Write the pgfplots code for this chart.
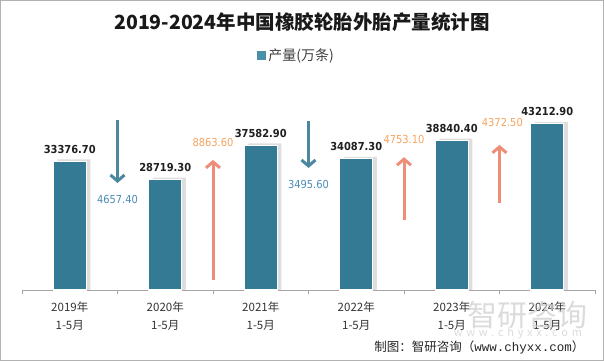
\documentclass[border=0pt]{standalone}
\usepackage{pgfplots}
\pgfplotsset{compat=1.18}
\usepackage{fontspec}
\setmainfont{Noto Sans CJK SC}
\setmonofont{Liberation Mono}
\newfontfamily\numfont{DejaVu Sans}[FakeStretch=0.9]
\usetikzlibrary{arrows.meta}
\definecolor{barc}{HTML}{347A94}
\definecolor{legc}{HTML}{4A90A8}
\definecolor{downc}{HTML}{4B889F}
\definecolor{upc}{HTML}{EF8E78}
\definecolor{lblue}{HTML}{4A8CB4}
\definecolor{lorange}{HTML}{F5A35F}
\begin{document}
\begin{tikzpicture}
\draw[gray!60, line width=1bp] (0.5bp,0.5bp) rectangle (603.5bp,360.5bp);
\node[font=\fontsize{19.5bp}{22bp}\selectfont\bfseries, text=black!90] at (302bp,339bp) {2019-2024年中国橡胶轮胎外胎产量统计图};
\begin{axis}[
  at={(22bp,71bp)}, anchor=south west,
  scale only axis, width=573bp, height=192.5bp,
  xmin=-0.5, xmax=5.5, ymin=0, ymax=50000,
  axis y line=none, axis x line*=bottom,
  x axis line style={gray!70, line width=0.8bp},
  clip=false,
  xtick={0,1,2,3,4,5},
  xticklabels={{2019年\\1-5月},{2020年\\1-5月},{2021年\\1-5月},{2022年\\1-5月},{2023年\\1-5月},{2024年\\1-5月}},
  major tick length=0pt,
  xticklabel style={align=center, font=\fontsize{11.5bp}{18bp}\selectfont, text=black!80, yshift=-8bp},
  extra x ticks={-0.5,0.5,1.5,2.5,3.5,4.5,5.5},
  extra x tick labels={},
  extra x tick style={major tick length=4bp, tick align=outside, tick style={draw=gray!70, line width=0.8bp}},
  /pgf/number format/assume math mode=true,
  legend style={at={(0.5,1)}, anchor=center, yshift=42bp, xshift=-12bp, draw=none, fill=none,
    font=\fontsize{14bp}{16bp}\selectfont, text=black!75},
  legend image code/.code={\fill[legc] (0bp,-4bp) rectangle (8bp,4bp);},
]
\addplot[ybar, bar width=33bp, bar shift=4bp, fill=black, opacity=0.13, draw=none, forget plot]
  coordinates {(0,33900) (1,29200) (2,38100) (3,34600) (4,39350) (5,43700)};
\addplot[ybar, bar width=33bp, bar shift=0bp, fill=barc, draw=white, line width=1.2bp,
  nodes near coords,
  every node near coord/.append style={font=\numfont\bfseries\fontsize{11bp}{13bp}\selectfont, text=black!88, yshift=4bp,
    /pgf/number format/.cd, fixed, fixed zerofill, precision=2, 1000 sep={}}]
  coordinates {(0,33376.7) (1,28719.3) (2,37582.9) (3,34087.3) (4,38840.4) (5,43212.9)};
\addlegendentry{产量(万条)}
\addplot[downc, line width=3bp, -{Straight Barb[length=6bp, width=14bp]}, forget plot] coordinates {(0.5,44200) (0.5,27800)};
\addplot[upc, line width=3bp, -{Straight Barb[length=6bp, width=14bp]}, forget plot] coordinates {(1.5,2600) (1.5,33800)};
\addplot[downc, line width=3bp, -{Straight Barb[length=6bp, width=14bp]}, forget plot] coordinates {(2.5,43900) (2.5,31700)};
\addplot[upc, line width=3bp, -{Straight Barb[length=6bp, width=14bp]}, forget plot] coordinates {(3.5,18200) (3.5,34500)};
\addplot[upc, line width=3bp, -{Straight Barb[length=6bp, width=14bp]}, forget plot] coordinates {(4.5,22600) (4.5,37700)};
\node[font=\numfont\fontsize{11bp}{13bp}\selectfont, text=lblue] at (axis cs:0.5,23400) {4657.40};
\node[font=\numfont\fontsize{11bp}{13bp}\selectfont, text=lorange] at (axis cs:1.5,38200) {8863.60};
\node[font=\numfont\fontsize{11bp}{13bp}\selectfont, text=lblue] at (axis cs:2.5,27300) {3495.60};
\node[font=\numfont\fontsize{11bp}{13bp}\selectfont, text=lorange] at (axis cs:3.5,39200) {4753.10};
\node[font=\numfont\fontsize{11bp}{13bp}\selectfont, text=lorange] at (axis cs:4.53,43600) {4372.50};
\end{axis}
\node[text=gray!40, opacity=0.7, font=\fontsize{30bp}{32bp}\selectfont] at (527bp,46bp) {智研咨询};
\node[text=gray!40, opacity=0.7, font=\fontsize{11bp}{12bp}\selectfont] at (518bp,28bp) {w\,\,w\,\,w\,\,.\,\,c\,\,h\,\,y\,\,x\,\,x\,\,.\,\,c\,\,o\,\,m};
\node[anchor=east, font=\fontsize{12.5bp}{15bp}\selectfont, text=black!85] at (588bp,14bp) {制图：智研咨询（\texttt{www.chyxx.com}）};
\end{tikzpicture}
\end{document}
